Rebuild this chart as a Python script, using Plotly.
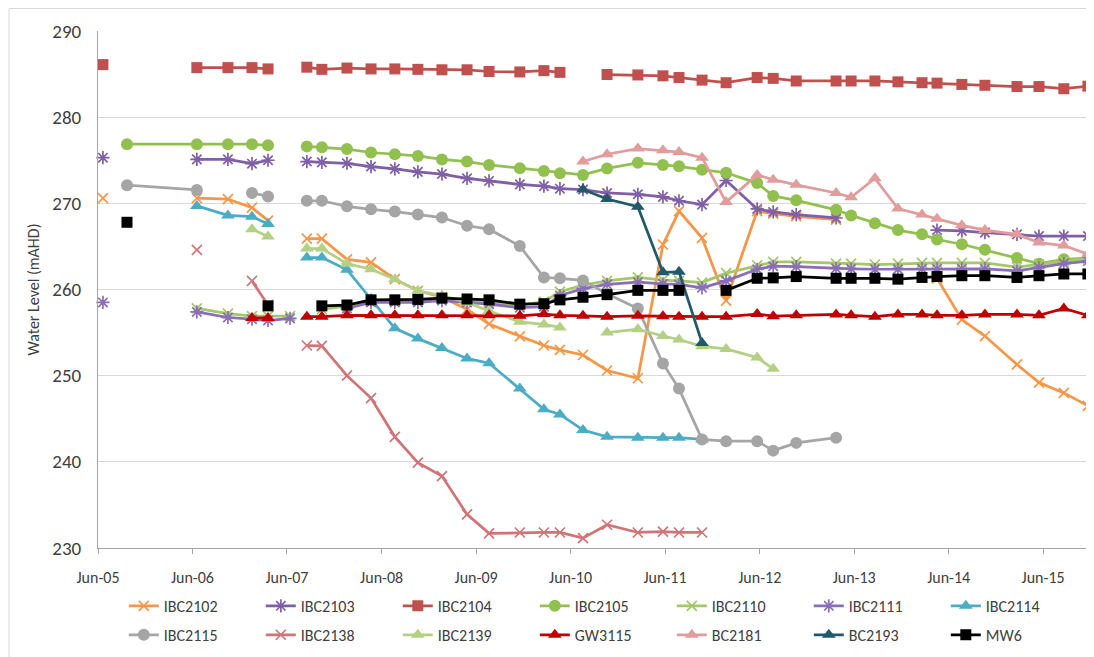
import plotly.graph_objects as go

# Shared sampling dates (one per monitoring round)
DATES = [
    "2005-06-20", "2005-09-21", "2006-06-18", "2006-10-16", "2007-01-17", "2007-03-20",
    "2007-06-13", "2007-08-17", "2007-10-14", "2008-01-19", "2008-04-21", "2008-07-22",
    "2008-10-19", "2009-01-20", "2009-04-27", "2009-07-21", "2009-11-17", "2010-02-18",
    "2010-04-21", "2010-07-19", "2010-10-20", "2011-02-16", "2011-05-24", "2011-07-25",
    "2011-10-22", "2012-01-23", "2012-05-22", "2012-07-23", "2012-10-20", "2013-03-23",
    "2013-05-20", "2013-08-20", "2013-11-17", "2014-02-18", "2014-04-17", "2014-07-22",
    "2014-10-19", "2015-02-20", "2015-05-16", "2015-08-20", "2015-11-21",
]
N = None

IBC2102 = [270.6, N, 270.6, 270.5, 269.5, 268.0, N, 265.9, 265.9, 263.5,
           263.15, 261.2, 259.85, 259.1, 257.7, 256.0, 254.55, 253.5, 253.0, 252.4,
           250.6, 249.7, 265.2, 269.1, 266.0, 258.7, 269.1, 268.8, 268.5, 268.1,
           N, N, N, N, 261.3, 256.5, 254.6, 251.3, 249.2, 248.0, 246.5]
IBC2103 = [275.3, N, 275.1, 275.1, 274.6, 275.0, N, 274.85, 274.75, 274.65,
           274.27, 274.0, 273.65, 273.4, 272.9, 272.6, 272.2, 272.0, 271.7, 271.6,
           271.2, 271.05, 270.75, 270.3, 269.85, 272.65, 269.35, 269.0, 268.7, 268.3,
           N, N, N, N, 266.9, 266.8, 266.6, 266.4, 266.2, 266.2, 266.2]
IBC2104 = [286.1, N, 285.75, 285.75, 285.75, 285.6, N, 285.8, 285.55, 285.7,
           285.6, 285.6, 285.55, 285.5, 285.5, 285.3, 285.25, 285.4, 285.2, N,
           284.95, 284.9, 284.8, 284.6, 284.3, 284.0, 284.6, 284.5, 284.2, 284.2,
           284.2, 284.2, 284.1, 284.0, 283.95, 283.8, 283.7, 283.55, 283.55, 283.3, 283.6]
IBC2105 = [N, 276.86, 276.86, 276.86, 276.86, 276.74, N, 276.6, 276.5, 276.3,
           275.9, 275.7, 275.5, 275.1, 274.85, 274.45, 274.07, 273.76, 273.5, 273.3,
           274.05, 274.7, 274.45, 274.3, 273.9, 273.55, 272.35, 270.86, 270.35, 269.25,
           268.6, 267.7, 266.9, 266.4, 265.8, 265.25, 264.6, 263.65, 263.0, 263.5, 263.65]
IBC2110 = [N, N, 257.8, 257.2, 256.9, 256.9, 256.9, N, 257.7, 258.1,
           258.6, 258.7, 258.7, 258.9, 258.7, 258.5, 258.2, 258.6, 259.75, 260.5,
           261.0, 261.4, 261.1, 261.0, 260.8, 261.9, 262.8, 263.2, 263.2, 263.0,
           263.0, 262.9, 263.0, 263.1, 263.1, 263.1, 263.1, 262.6, 262.9, 263.3, 263.6]
IBC2111 = [258.5, N, 257.4, 256.75, 256.55, 256.4, 256.65, N, N, 257.8,
           258.5, 258.5, 258.5, 258.7, 258.5, 258.3, 257.9, 258.0, 259.3, 260.1,
           260.6, 260.85, 260.65, 260.6, 260.2, 261.0, 262.35, 262.7, 262.65, 262.45,
           262.4, 262.35, 262.35, 262.4, 262.4, 262.4, 262.4, 262.15, 262.55, 263.0, 263.3]
IBC2114 = [N, N, 269.7, 268.6, 268.45, 267.6, N, 263.7, 263.7, 262.3,
           258.9, 255.5, 254.3, 253.2, 252.0, 251.45, 248.5, 246.1, 245.5, 243.7,
           242.9, 242.8, 242.8, 242.8, 242.6, N, N, N, N, N,
           N, N, N, N, N, N, N, N, N, N, N]
IBC2115 = [N, 272.1, 271.55, N, 271.2, 270.8, N, 270.3, 270.3, 269.65,
           269.3, 269.05, 268.7, 268.35, 267.4, 267.0, 265.05, 261.4, 261.3, 261.05,
           259.5, 257.8, 251.4, 248.5, 242.6, 242.4, 242.4, 241.3, 242.2, 242.8,
           N, N, N, N, N, N, N, N, N, N, N]
IBC2138 = [N, N, 264.6, N, 261.0, 258.2, N, 253.5, 253.45, 250.0,
           247.4, 242.9, 239.9, 238.35, 233.9, 231.7, 231.8, 231.8, 231.8, 231.15,
           232.7, 231.8, 231.9, 231.8, 231.8, N, N, N, N, N,
           N, N, N, N, N, N, N, N, N, N, N]
IBC2139 = [N, N, N, N, 267.0, 266.15, N, 264.75, 264.75, 263.0,
           262.35, 261.2, 259.85, 259.3, 258.5, 257.5, 256.25, 255.95, 255.6, N,
           255.0, 255.4, 254.6, 254.2, 253.4, 253.1, 252.1, 250.8, N, N,
           N, N, N, N, N, N, N, N, N, N, N]
GW3115 = [N, N, N, N, 256.7, 256.7, N, 256.85, 256.85, 257.0,
          257.0, 257.0, 257.0, 257.0, 257.0, 257.0, 256.95, 257.15, 257.0, 256.95,
          256.85, 256.95, 256.9, 256.85, 256.85, 256.85, 257.15, 256.9, 257.0, 257.1,
          257.0, 256.85, 257.1, 257.1, 257.0, 257.0, 257.1, 257.1, 257.0, 257.8, 257.0]
BC2181 = [N, N, N, N, N, N, N, N, N, N,
          N, N, N, N, N, N, N, N, N, 274.85,
          275.7, 276.35, 276.15, 275.95, 275.3, 270.15, 273.3, 272.75, 272.15, 271.2,
          270.7, 272.9, 269.4, 268.7, 268.2, 267.45, 266.9, 266.4, 265.45, 265.1, 264.1]
BC2193 = [N, N, N, N, N, N, N, N, N, N,
          N, N, N, N, N, N, N, N, N, 271.6,
          270.5, 269.6, 262.0, 262.05, 253.8, N, N, N, N, N,
          N, N, N, N, N, N, N, N, N, N, N]
MW6 = [N, 267.8, N, N, N, 258.1, N, N, 258.1, 258.2,
       258.8, 258.8, 258.85, 259.0, 258.9, 258.8, 258.3, 258.35, 258.8, 259.1,
       259.4, 259.9, 259.9, 259.9, N, 259.9, 261.3, 261.35, 261.5, 261.3,
       261.3, 261.3, 261.2, 261.4, 261.5, 261.6, 261.6, 261.4, 261.6, 261.8, 261.8]

SERIES_NAMES = ["IBC2102", "IBC2103", "IBC2104", "IBC2105", "IBC2110", "IBC2111", "IBC2114",
                "IBC2115", "IBC2138", "IBC2139", "GW3115", "BC2181", "BC2193", "MW6"]
SERIES_VALUES = [IBC2102, IBC2103, IBC2104, IBC2105, IBC2110, IBC2111, IBC2114,
                 IBC2115, IBC2138, IBC2139, GW3115, BC2181, BC2193, MW6]

# styles: (colour, marker symbol, marker size)
STYLES = {
    "IBC2102": ("#F79646", "x-thin", 10),
    "IBC2103": ("#7F5FA6", "asterisk", 11),
    "IBC2104": ("#C0504D", "square", 11),
    "IBC2105": ("#92C04F", "circle", 12),
    "IBC2110": ("#A3C865", "x-thin", 10),
    "IBC2111": ("#8A6DB8", "asterisk", 11),
    "IBC2114": ("#4BACC6", "triangle-up", 12),
    "IBC2115": ("#A5A5A5", "circle", 12),
    "IBC2138": ("#D07478", "x-thin", 10),
    "IBC2139": ("#B3D083", "triangle-up", 12),
    "GW3115": ("#C00000", "triangle-up", 12),
    "BC2181": ("#E29C9C", "triangle-up", 12),
    "BC2193": ("#215968", "triangle-up", 12),
    "MW6": ("#000000", "square", 11),
}

FONT = "Carlito, Calibri, Lato, sans-serif"
TXT = "#404040"

fig = go.Figure()
for i, (name, vals) in enumerate(zip(SERIES_NAMES, SERIES_VALUES)):
    color, sym, size = STYLES[name]
    thin = sym in ("x-thin", "asterisk")
    fig.add_trace(go.Scatter(
        x=DATES, y=vals, name=name, mode="lines+markers",
        connectgaps=False, cliponaxis=False,
        line=dict(color=color, width=2.75),
        marker=dict(symbol=sym, size=size, color=color,
                    line=dict(color=color, width=1.7 if thin else 0)),
        legend="legend" if i < 7 else "legend2",
    ))

legend_common = dict(orientation="h", xanchor="left", yanchor="middle", x=0.026,
                     entrywidth=92, font=dict(family=FONT, size=16, color=TXT),
                     bgcolor="rgba(0,0,0,0)", itemwidth=30, traceorder="normal")

# The page body adds an 8px offset, so the figure is sized to fill the rest of the window.
fig.update_layout(
    width=1086, height=649, autosize=False,
    margin=dict(l=90, r=3, t=23, b=109, autoexpand=False),
    paper_bgcolor="white", plot_bgcolor="white",
    font=dict(family=FONT, color=TXT),
    legend=dict(y=-0.112, **legend_common),
    legend2=dict(y=-0.168, **legend_common),
    xaxis=dict(
        type="date", range=["2005-06-01", "2015-12-03"],
        tick0="2005-06-01", dtick="M12", tickformat="%b-%y",
        showgrid=False, showline=True, linecolor="#A6A6A6", linewidth=1,
        ticks="outside", ticklen=5, tickcolor="#A6A6A6",
        tickfont=dict(family=FONT, size=16, color=TXT), ticklabelstandoff=10,
        zeroline=False,
    ),
    yaxis=dict(
        range=[230, 290], dtick=10, tick0=230,
        showgrid=True, gridcolor="#D9D9D9", gridwidth=1,
        showline=True, linecolor="#A6A6A6", linewidth=1,
        ticks="", tickfont=dict(family=FONT, size=19, color=TXT),
        ticklabelstandoff=12, zeroline=False,
        title=dict(text="Water Level (mAHD)", standoff=8,
                   font=dict(family=FONT, size=16, color=TXT)),
    ),
    shapes=[dict(type="rect", xref="paper", yref="paper",
                 x0=-0.0896, x1=1.2, y0=-0.4, y1=1.0435,
                 line=dict(color="#D9D9D9", width=1), layer="below")],
)

fig.write_html("out.html")
